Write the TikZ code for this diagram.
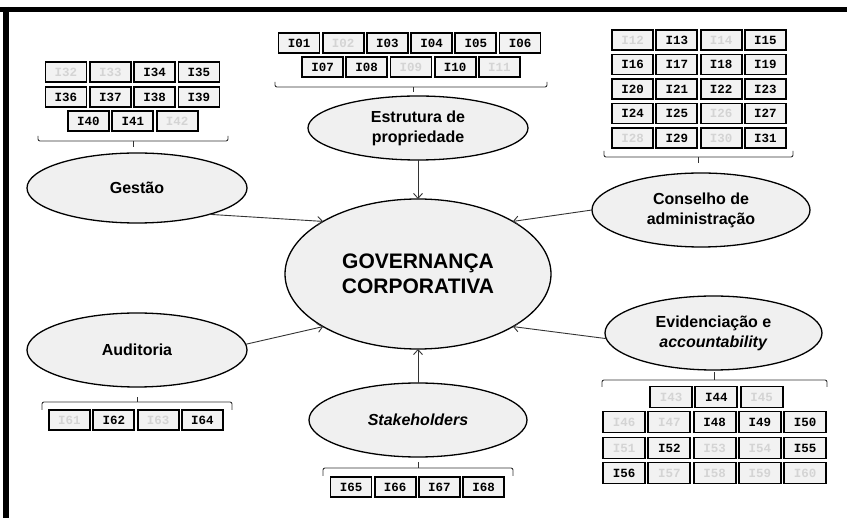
\documentclass[tikz,border=0pt]{standalone}
\usepackage{fontspec}
\setmainfont{Liberation Sans}
\newfontfamily\boxmono{Liberation Mono}
\usetikzlibrary{shapes.geometric,arrows.meta}
\definecolor{ellfill}{HTML}{F0F0F0}
\definecolor{boxfill}{HTML}{F2F2F2}
\definecolor{faint}{HTML}{D4D4D4}
\definecolor{lnk}{HTML}{333333}
\begin{document}
\begin{tikzpicture}[x=1pt,y=-1pt,
  oval/.style={ellipse, draw=black, line width=1.3pt, fill=ellfill, inner sep=0pt, outer sep=0pt, align=center, font=\bfseries\fontsize{16}{20}\selectfont},
  ibox/.style={draw=black, line width=1.8pt, fill=boxfill, minimum width=41pt, minimum height=20pt, inner sep=0pt, outer sep=0pt, font=\boxmono\bfseries\fontsize{12.5}{14}\selectfont, text=black},
  off/.style={ibox, text=faint},
  ebox/.style={ibox, minimum width=42pt, minimum height=21pt},
  eoff/.style={ebox, text=faint},
  brk/.style={draw=lnk, line width=0.9pt, rounded corners=2pt},
  arr/.style={draw=lnk, line width=0.9pt, -{Straight Barb[length=5pt,width=9pt]}},
  frame/.style={draw=black, line width=5.5pt},
]
\useasboundingbox (0,0) rectangle (847,518);
\fill[white] (0,0) rectangle (847,518);
\draw[frame] (0,9.5) -- (847,9.5);
\draw[frame] (6,7) -- (6,518);

% Estrutura de propriedade
\foreach \lab/\st [count=\i from 0] in {I01/ibox,I02/off,I03/ibox,I04/ibox,I05/ibox,I06/ibox}
  \node[\st] (b\lab) at ({299+44.2*\i},43) {\lab};
\foreach \lab/\st [count=\i from 0] in {I07/ibox,I08/ibox,I09/off,I10/ibox,I11/off}
  \node[\st] (b\lab) at ({322.5+44.2*\i},67) {\lab};
\draw[brk] (275,82) -- (275,87) -- (547,87) -- (547,82);
\draw[brk] (413,87) -- (413,92);

% Conselho de administracao
\foreach \lab/\st [count=\i from 0] in {I12/off,I13/ibox,I14/off,I15/ibox}
  \node[\st] (b\lab) at ({632.5+44.3*\i},40) {\lab};
\foreach \lab/\st [count=\i from 0] in {I16/ibox,I17/ibox,I18/ibox,I19/ibox}
  \node[\st] (b\lab) at ({632.5+44.3*\i},64.5) {\lab};
\foreach \lab/\st [count=\i from 0] in {I20/ibox,I21/ibox,I22/ibox,I23/ibox}
  \node[\st] (b\lab) at ({632.5+44.3*\i},89) {\lab};
\foreach \lab/\st [count=\i from 0] in {I24/ibox,I25/ibox,I26/off,I27/ibox}
  \node[\st] (b\lab) at ({632.5+44.3*\i},113.5) {\lab};
\foreach \lab/\st [count=\i from 0] in {I28/off,I29/ibox,I30/off,I31/ibox}
  \node[\st] (b\lab) at ({632.5+44.3*\i},138) {\lab};
\draw[brk] (604,151) -- (604,157) -- (793,157) -- (793,151);
\draw[brk] (698,157) -- (698,163);

% Gestao
\foreach \lab/\st [count=\i from 0] in {I32/off,I33/off,I34/ibox,I35/ibox}
  \node[\st] (b\lab) at ({66+44.3*\i},72) {\lab};
\foreach \lab/\st [count=\i from 0] in {I36/ibox,I37/ibox,I38/ibox,I39/ibox}
  \node[\st] (b\lab) at ({66+44.3*\i},97) {\lab};
\foreach \lab/\st [count=\i from 0] in {I40/ibox,I41/ibox,I42/off}
  \node[\st] (b\lab) at ({88.5+44.3*\i},121) {\lab};
\draw[brk] (38,136) -- (38,141) -- (228,141) -- (228,136);
\draw[brk] (133,141) -- (133,147);

% Evidenciacao
\foreach \lab/\st [count=\i from 0] in {I43/eoff,I44/ebox,I45/eoff}
  \node[\st] (b\lab) at ({671+45.3*\i},397) {\lab};
\foreach \lab/\st [count=\i from 0] in {I46/eoff,I47/eoff,I48/ebox,I49/ebox,I50/ebox}
  \node[\st] (b\lab) at ({624+45.3*\i},422) {\lab};
\foreach \lab/\st [count=\i from 0] in {I51/eoff,I52/ebox,I53/eoff,I54/eoff,I55/ebox}
  \node[\st] (b\lab) at ({624+45.3*\i},448) {\lab};
\foreach \lab/\st [count=\i from 0] in {I56/ebox,I57/eoff,I58/eoff,I59/eoff,I60/eoff}
  \node[\st] (b\lab) at ({624+45.3*\i},473) {\lab};
\draw[brk] (602,387) -- (602,380) -- (827,380) -- (827,387);
\draw[brk] (714,380) -- (714,372);

% Auditoria
\foreach \lab/\st [count=\i from 0] in {I61/off,I62/ibox,I63/off,I64/ibox}
  \node[\st] (b\lab) at ({69.5+44.3*\i},420) {\lab};
\draw[brk] (42,410) -- (42,402) -- (232,402) -- (232,410);
\draw[brk] (137,402) -- (137,397);

% Stakeholders
\foreach \lab/\st [count=\i from 0] in {I65/ibox,I66/ibox,I67/ibox,I68/ibox}
  \node[\st] (b\lab) at ({351+44.2*\i},487) {\lab};
\draw[brk] (323,476) -- (323,468) -- (513,468) -- (513,476);
\draw[brk] (418,468) -- (418,462);

% Ellipses
\node[oval, minimum width=220pt, minimum height=64pt] (est) at (418,128) {Estrutura de\\propriedade};
\node[oval, minimum width=220pt, minimum height=70pt] (gest) at (137,188) {Gestão};
\node[oval, minimum width=218pt, minimum height=74pt] (cons) at (701,210) {Conselho de\\administração};
\node[oval, minimum width=217pt, minimum height=74pt] (evid) at (713.5,333) {Evidenciação e\\\textit{accountability}};
\node[oval, minimum width=220pt, minimum height=74pt] (aud) at (137,350) {Auditoria};
\node[oval, minimum width=218pt, minimum height=74pt] (stk) at (418,420) {\textit{Stakeholders}};
\node[oval, minimum width=266pt, minimum height=150pt, font=\bfseries\fontsize{21}{25}\selectfont] (gc) at (418,274) {GOVERNANÇA\\CORPORATIVA};

% Arrows
\draw[arr] (est) -- (gc);
\draw[arr] (gest.-20) -- (gc.151);
\draw[arr] (cons.180) -- (gc.29);
\draw[arr] (aud.3) -- (gc.209);
\draw[arr] (evid.183) -- (gc.331);
\draw[arr] (stk) -- (gc);
\end{tikzpicture}
\end{document}
